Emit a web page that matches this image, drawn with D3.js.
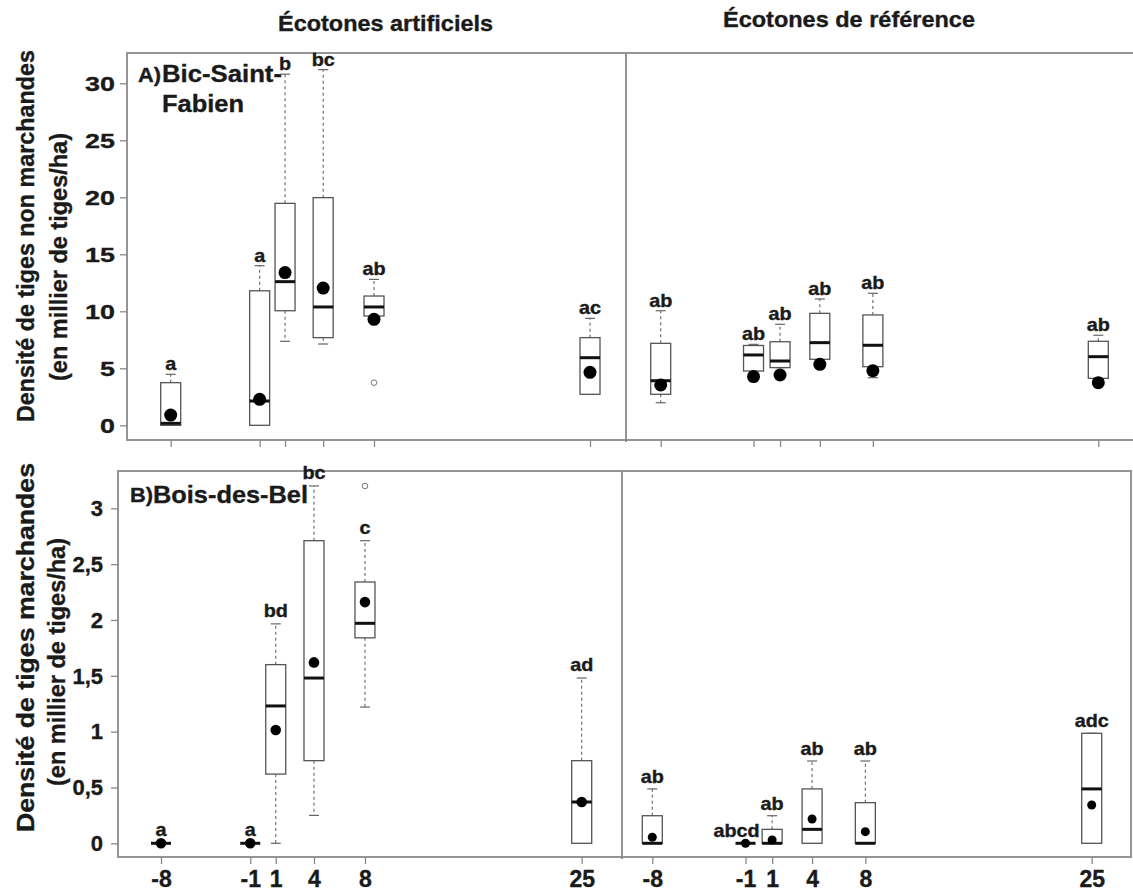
<!DOCTYPE html>
<html><head><meta charset="utf-8">
<script src="https://cdn.jsdelivr.net/npm/d3@7"></script>
<style>body{margin:0;background:#fff} svg{display:block;font-family:"Liberation Sans",Arial,sans-serif;font-weight:bold}
svg text{stroke:#1a1a1a;stroke-width:0.35px}</style>
</head><body><svg id="c" width="1133" height="892"></svg>
<script>
// ---------- data ----------
const positions = [-8, -1, 1, 4, 8, 25];
const xTickLabels = ["-8", "-1", "1", "4", "8", "25"];
const topTicks = [0, 5, 10, 15, 20, 25, 30];
const topTickLabels = ["0", "5", "10", "15", "20", "25", "30"];
const bottomTicks = [0, 0.5, 1, 1.5, 2, 2.5, 3];
const bottomTickLabels = ["0", "0,5", "1", "1,5", "2", "2,5", "3"];
const columnTitles = ["Écotones artificiels", "Écotones de référence"];

// A) Bic-Saint-Fabien, artificial ecotones (thousand stems/ha)
const A_art_whiskLo = [0, 0, 7.37, 7.13, 9.5, 2.72];
const A_art_q1      = [0, 0, 10.05, 7.69, 9.59, 2.72];
const A_art_med     = [0.17, 2.13, 12.6, 10.38, 10.38, 5.93];
const A_art_q3      = [3.74, 11.8, 19.47, 19.97, 11.34, 7.69];
const A_art_whiskHi = [4.47, 14.0, 30.8, 31.2, 12.8, 9.38];
const A_art_mean    = [0.9, 2.28, 13.4, 12.04, 9.3, 4.65];
const A_art_out     = [[], [], [], [], [3.74], []];
const A_art_letters = ["a", "a", "b", "bc", "ab", "ac"];

// A) Bic-Saint-Fabien, reference ecotones
const A_ref_whiskLo = [1.98, 4.76, 5.06, 5.79, 4.18, 4.12];
const A_ref_q1      = [2.72, 4.76, 5.06, 5.79, 5.14, 4.12];
const A_ref_med     = [3.91, 6.17, 5.64, 7.25, 7.02, 6.02];
const A_ref_q3      = [7.19, 7.0, 7.33, 9.82, 9.68, 7.37];
const A_ref_whiskHi = [10.05, 7.1, 8.86, 11.08, 11.58, 7.9];
const A_ref_mean    = [3.54, 4.27, 4.41, 5.35, 4.79, 3.74];
const A_ref_out     = [[], [], [], [], [], []];
const A_ref_letters = ["ab", "ab", "ab", "ab", "ab", "ab"];

// B) Bois-des-Bel, artificial ecotones
const B_art_whiskLo = [0, 0, 0, 0.25, 1.22, 0];
const B_art_q1      = [0, 0, 0.62, 0.74, 1.84, 0];
const B_art_med     = [0, 0, 1.23, 1.48, 1.97, 0.37];
const B_art_q3      = [0, 0, 1.60, 2.71, 2.34, 0.74];
const B_art_whiskHi = [0, 0, 1.965, 3.20, 2.71, 1.48];
const B_art_mean    = [0, 0, 1.015, 1.62, 2.16, 0.37];
const B_art_out     = [[], [], [], [], [3.20], []];
const B_art_letters = ["a", "a", "bd", "bc", "c", "ad"];

// B) Bois-des-Bel, reference ecotones
const B_ref_whiskLo = [0, 0, 0, 0, 0, 0];
const B_ref_q1      = [0, 0, 0, 0, 0, 0];
const B_ref_med     = [0, 0, 0, 0.125, 0, 0.487];
const B_ref_q3      = [0.247, 0, 0.125, 0.487, 0.364, 0.985];
const B_ref_whiskHi = [0.487, 0, 0.247, 0.737, 0.737, 0.985];
const B_ref_mean    = [0.054, 0, 0.03, 0.218, 0.104, 0.343];
const B_ref_out     = [[], [], [], [], [], []];
const B_ref_letters = ["ab", "abcd", "ab", "ab", "ab", "adc"];

function build(lo, q1, med, q3, hi, mean, out, letters) {
  return positions.map((p, i) => ({pos: p, lo: lo[i], q1: q1[i], med: med[i], q3: q3[i], hi: hi[i], mean: mean[i], out: out[i], letter: letters[i]}));
}
const A_art = build(A_art_whiskLo, A_art_q1, A_art_med, A_art_q3, A_art_whiskHi, A_art_mean, A_art_out, A_art_letters);
const A_ref = build(A_ref_whiskLo, A_ref_q1, A_ref_med, A_ref_q3, A_ref_whiskHi, A_ref_mean, A_ref_out, A_ref_letters);
const B_art = build(B_art_whiskLo, B_art_q1, B_art_med, B_art_q3, B_art_whiskHi, B_art_mean, B_art_out, B_art_letters);
const B_ref = build(B_ref_whiskLo, B_ref_q1, B_ref_med, B_ref_q3, B_ref_whiskHi, B_ref_mean, B_ref_out, B_ref_letters);

// ---------- layout ----------
const svg = d3.select("#c");
const FRAME = "#8a8a8a", BOXC = "#555", TXT = "#1a1a1a";

const yTop = d3.scaleLinear().domain([0, 30]).range([425.3, 83.3]);
const yBot = d3.scaleLinear().domain([0, 3]).range([843.3, 508.3]);
const xTL = d3.scaleLinear().domain([-8, 25]).range([170.7, 590]);
const xTR = d3.scaleLinear().domain([-8, 25]).range([660.7, 1098.3]);
const xBL = d3.scaleLinear().domain([-8, 25]).range([161, 581.7]);
const xBR = d3.scaleLinear().domain([-8, 25]).range([652.3, 1091.7]);

// frames
function frame(x0, y0, x1, y1, xd) {
  const g = svg.append("g").attr("fill", "none").attr("stroke", FRAME).attr("stroke-width", 1.8);
  g.append("rect").attr("x", x0).attr("y", y0).attr("width", x1 - x0).attr("height", y1 - y0);
  g.append("line").attr("x1", xd).attr("x2", xd).attr("y1", y0).attr("y2", y1 + 2);
}
frame(127, 53, 1145, 440, 626);
frame(118, 471, 1131, 857, 622);

// titles
svg.append("text").attr("x", 385.5).attr("y", 31).attr("text-anchor", "middle")
  .attr("font-size", 22).attr("fill", TXT).attr("textLength", 215).attr("lengthAdjust", "spacingAndGlyphs").text(columnTitles[0]);
svg.append("text").attr("x", 849).attr("y", 27).attr("text-anchor", "middle")
  .attr("font-size", 22).attr("fill", TXT).attr("textLength", 252).attr("lengthAdjust", "spacingAndGlyphs").text(columnTitles[1]);

// y-axis titles
function yTitle(x, y, len, txt) {
  svg.append("text").attr("transform", `translate(${x},${y}) rotate(-90)`).attr("text-anchor", "middle")
    .attr("font-size", 24).attr("fill", TXT).attr("textLength", len).attr("lengthAdjust", "spacingAndGlyphs").text(txt);
}
yTitle(34, 236, 372, "Densité de tiges non marchandes");
yTitle(67, 257, 248, "(en millier de tiges/ha)");
yTitle(34, 647.5, 369, "Densité de tiges marchandes");
yTitle(65, 662, 248, "(en millier de tiges/ha)");

// panel labels
function plain(x, y, size, len, txt) {
  const t = svg.append("text").attr("x", x).attr("y", y).attr("font-size", size).attr("fill", TXT).text(txt);
  if (len) t.attr("textLength", len).attr("lengthAdjust", "spacingAndGlyphs");
}
plain(138, 82, 20, 23, "A)");
plain(162, 82, 24, 120, "Bic-Saint-");
plain(162, 112, 24, 82, "Fabien");
plain(130, 502, 20, 23, "B)");
plain(153, 503, 24, 155, "Bois-des-Bel");

// y axes
function yAxis(scale, tx, ticks, labels, size, sx, pad) {
  const g = svg.append("g").attr("transform", `translate(${tx},0)`)
    .call(d3.axisLeft(scale).tickValues(ticks).tickSize(7).tickFormat((d, i) => labels[i]));
  g.select(".domain").remove();
  g.selectAll(".tick line").attr("stroke", FRAME).attr("stroke-width", 1.3);
  g.selectAll(".tick text").attr("font-size", size).attr("fill", TXT)
    .attr("transform", `scale(${sx},1)`).attr("x", -pad / sx).attr("dy", "0.33em");
  g.attr("font-family", null).attr("font-size", null);
}
yAxis(yTop, 127, topTicks, topTickLabels, 21, 1.28, 12);
yAxis(yBot, 118, bottomTicks, bottomTickLabels, 22, 1.0, 15);

// x axes
function xAxis(scale, ty, withLabels) {
  const g = svg.append("g").attr("transform", `translate(0,${ty})`)
    .call(d3.axisBottom(scale).tickValues(positions).tickSize(7).tickFormat((d, i) => withLabels ? xTickLabels[i] : ""));
  g.select(".domain").remove();
  g.selectAll(".tick line").attr("stroke", FRAME).attr("stroke-width", 1.3);
  g.selectAll(".tick text").attr("font-size", 23).attr("fill", TXT).attr("y", 30).attr("dy", 0);
  g.attr("font-family", null).attr("font-size", null);
}
xAxis(xTL, 440, false);
xAxis(xTR, 440, false);
xAxis(xBL, 857, true);
xAxis(xBR, 857, true);

// boxplots
function boxes(data, x, y, r, labelOff) {
  const bw = 20, cw = 10;
  const g = svg.append("g");
  data.forEach(d => {
    const cx = x(d.pos);
    const b = g.append("g");
    // whiskers
    b.append("line").attr("x1", cx).attr("x2", cx).attr("y1", y(d.q3)).attr("y2", y(d.hi))
      .attr("stroke", "#666").attr("stroke-width", 1.1).attr("stroke-dasharray", "3,3");
    b.append("line").attr("x1", cx).attr("x2", cx).attr("y1", y(d.q1)).attr("y2", y(d.lo))
      .attr("stroke", "#666").attr("stroke-width", 1.1).attr("stroke-dasharray", "3,3");
    [d.hi, d.lo].forEach(v => b.append("line").attr("x1", cx - cw / 2).attr("x2", cx + cw / 2)
      .attr("y1", y(v)).attr("y2", y(v)).attr("stroke", "#666").attr("stroke-width", 1.2));
    // box
    b.append("rect").attr("x", cx - bw / 2).attr("width", bw).attr("y", y(d.q3)).attr("height", y(d.q1) - y(d.q3))
      .attr("fill", "#fff").attr("stroke", BOXC).attr("stroke-width", 1.3);
    // median
    b.append("line").attr("x1", cx - bw / 2).attr("x2", cx + bw / 2).attr("y1", y(d.med)).attr("y2", y(d.med))
      .attr("stroke", "#111").attr("stroke-width", 3);
    // outliers
    d.out.forEach(v => b.append("circle").attr("cx", cx).attr("cy", y(v)).attr("r", 2.8)
      .attr("fill", "none").attr("stroke", "#777").attr("stroke-width", 1));
    // mean
    b.append("circle").attr("cx", cx).attr("cy", y(d.mean)).attr("r", r).attr("fill", "#000");
    // letters
    const dx = d.letter.length > 3 ? -9 : 0;
    b.append("text").attr("transform", `translate(${cx + dx},${y(d.hi) - labelOff}) scale(1.1,1)`)
      .attr("text-anchor", "middle").attr("font-size", 18).attr("fill", TXT).text(d.letter);
  });
}
boxes(A_art, xTL, yTop, 6.5, 4);
boxes(A_ref, xTR, yTop, 6.5, 4);
boxes(B_art, xBL, yBot, 5.3, 7);
boxes(B_ref, xBR, yBot, 4.5, 6);
</script></body></html>
